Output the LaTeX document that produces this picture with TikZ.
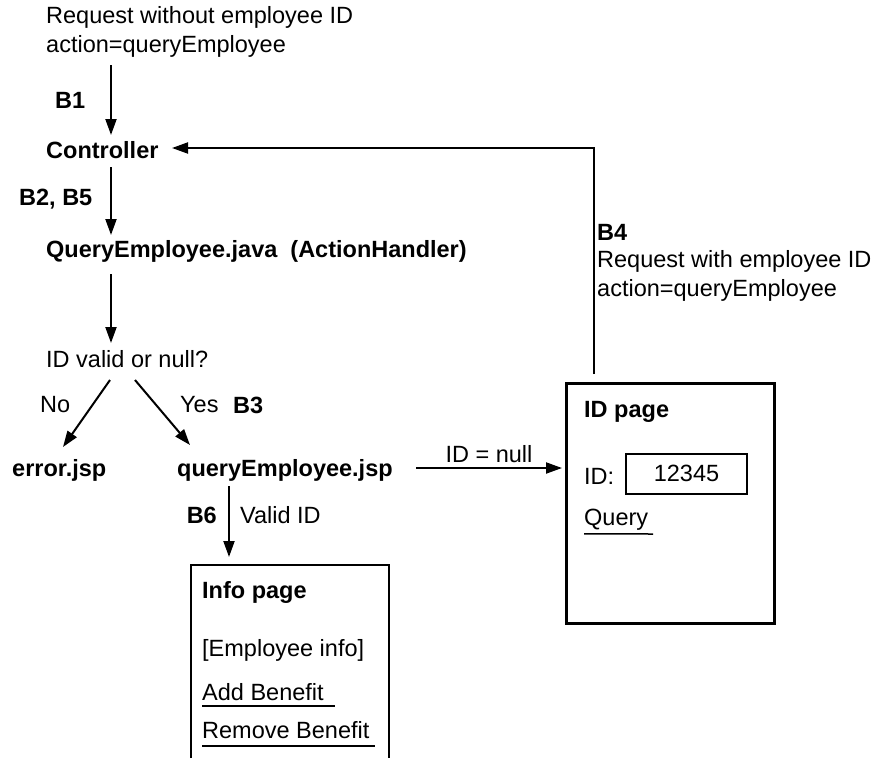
\documentclass[tikz,border=0pt]{standalone}
\usepackage{fontspec}
\setmainfont{Liberation Sans}
\usetikzlibrary{arrows.meta}
\begin{document}
\begin{tikzpicture}[x=1pt,y=-1pt,
  txt/.style={anchor=west, inner sep=0pt, font=\fontsize{23.5}{29}\selectfont},
  btxt/.style={anchor=west, inner sep=0pt, font=\fontsize{23.5}{29}\selectfont\bfseries},
  arr/.style={line width=2pt, -{Triangle[length=16pt,width=11pt]}},
  box/.style={draw, line width=2.5pt}]
\useasboundingbox (0,0) rectangle (893,758);

% left column
\node[txt, align=left] (req) at (46,32) {Request without employee ID\\action=queryEmployee};
\node[btxt] (b1) at (55,100) {B1};
\node[btxt] (ctrl) at (46,150) {Controller};
\node[btxt] (b25) at (19,199) {B2, B5};
\node[btxt] (qej) at (46,251) {QueryEmployee.java\ \ (ActionHandler)};
\node[txt] (valid) at (46,359) {ID valid or null?};
\node[txt] (no) at (40,405) {No};
\node[txt] (yes) at (180,405) {Yes};
\node[btxt] (b3) at (233,405) {B3};
\node[btxt] (err) at (12,470) {error.jsp};
\node[btxt] (qjsp) at (177,470) {queryEmployee.jsp};

% arrow coordinates
\coordinate (r1s) at (111,65);
\coordinate (r1e) at (111,135);
\coordinate (c1s) at (111,167);
\coordinate (c1e) at (111,235);
\coordinate (q1s) at (111,274);
\coordinate (q1e) at (111,343);
\coordinate (dls) at (110,380);
\coordinate (dle) at (63,447);
\coordinate (drs) at (135,380);
\coordinate (dre) at (190,445);

\draw[arr] (r1s) -- (r1e);
\draw[arr] (c1s) -- (c1e);
\draw[arr] (q1s) -- (q1e);
\draw[arr] (dls) -- (dle);
\draw[arr] (drs) -- (dre);

% ID page
\node[box, anchor=north west, minimum width=208pt, minimum height=240pt, inner sep=0pt] (idpage) at (565,382) {};
\node[btxt] (idtitle) at (584,412) {ID page};
\node[txt] (idlbl) at (584,476) {ID:};
\node[draw, line width=1.5pt, minimum width=121pt, minimum height=40pt, inner sep=0pt,
      font=\fontsize{23.5}{29}\selectfont] (idfield) at (686.5,474) {\raisebox{1.5pt}{12345}};
\node[txt] (query) at (584,520) {Query};
\draw[line width=1.5pt] (query.south west) ++(0,3) coordinate (qul) -- (653,534);

% ID = null arrow
\coordinate (nulls) at (416,468);
\coordinate (nulle) at (562,468);
\draw[arr] (nulls) -- node[above=4pt, font=\fontsize{23.5}{29}\selectfont, inner sep=0pt] (nulllbl) {ID = null} (nulle);

% B4 return arrow
\node[btxt] (b4) at (597,232) {B4};
\node[txt, align=left] (req2) at (597,276) {Request with employee ID\\action=queryEmployee};
\coordinate (idtop) at (594,374);
\coordinate (ctrlin) at (172,148);
\draw[arr] (idtop) |- (ctrlin);

% B6 arrow
\coordinate (b6s) at (229,486);
\coordinate (b6e) at (229,557);
\draw[arr] (b6s) -- (b6e);
\node[btxt, anchor=east] (b6) at (217,515) {B6};
\node[txt] (vid) at (240,515) {Valid ID};

% Info page
\draw[line width=2.5pt] (191,758) |- (389,565) -- (389,758);
\node[btxt] (infot) at (202,592) {Info page};
\node[txt] (empinfo) at (202,650) {[Employee info]};
\node[txt] (addb) at (202,692) {Add Benefit};
\draw[line width=1.5pt] (202,706) -- (335,706);
\node[txt] (remb) at (202,730) {Remove Benefit};
\draw[line width=1.5pt] (202,746) -- (375,746);
\end{tikzpicture}
\end{document}
